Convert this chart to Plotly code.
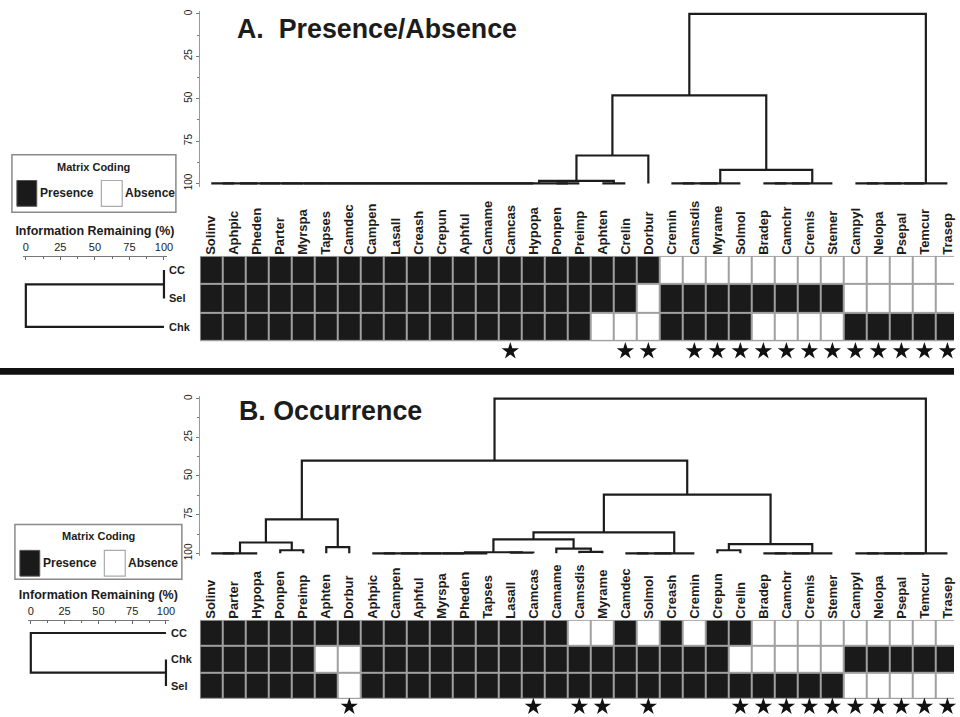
import plotly.graph_objects as go

W, H = 960, 717
FONT = "Liberation Sans, Arial, sans-serif"
INK = "#1c1c1c"
GRID = "#a0a0a0"

# ---------------- data: panel A (Presence/Absence) ----------------
LEAVES_A = ["Solinv", "Aphpic", "Pheden", "Parter", "Myrspa", "Tapses", "Camdec", "Campen",
            "Lasall", "Creash", "Crepun", "Aphful", "Camame", "Camcas", "Hypopa", "Ponpen",
            "Preimp", "Aphten", "Crelin", "Dorbur", "Cremin", "Camsdis", "Myrame", "Solmol",
            "Bradep", "Camchr", "Cremis", "Stemer", "Campyl", "Nelopa", "Psepal", "Temcur", "Trasep"]
ROWS_A = ["CC", "Sel", "Chk"]
CC_A = [1] * 20 + [0] * 13
SEL_A = [1] * 19 + [0] + [1] * 8 + [0] * 5
CHK_A = [1] * 17 + [0, 0, 0] + [1] * 4 + [0] * 4 + [1] * 5
STARS_A = ["Camcas", "Crelin", "Dorbur", "Camsdis", "Myrame", "Solmol", "Bradep", "Camchr",
           "Cremis", "Stemer", "Campyl", "Nelopa", "Psepal", "Temcur", "Trasep"]
# chains of consecutive leaves joined at a level (information remaining, %)
CHAINS_A = [("g1", "Solinv", "Hypopa", 100), ("g1b", "Ponpen", "Preimp", 100),
            ("g2", "Aphten", "Crelin", 100), ("g3", "Cremin", "Solmol", 100),
            ("g4", "Bradep", "Stemer", 100), ("g5", "Campyl", "Trasep", 100)]
MERGES_A = [("n0", "g1", "g1b", 100), ("n1", "n0", "g2", 98.5), ("n2", "n1", "Dorbur", 83.5),
            ("n3", "g3", "g4", 92), ("n4", "n2", "n3", 48), ("root", "n4", "g5", 0)]
ROW_MERGES_A = [("r1", "CC", "Sel", 100), ("r0", "r1", "Chk", 0)]

# ---------------- data: panel B (Occurrence) ----------------
LEAVES_B = ["Solinv", "Parter", "Hypopa", "Ponpen", "Preimp", "Aphten", "Dorbur", "Aphpic",
            "Campen", "Aphful", "Myrspa", "Pheden", "Tapses", "Lasall", "Camcas", "Camame",
            "Camsdis", "Myrame", "Camdec", "Solmol", "Creash", "Cremin", "Crepun", "Crelin",
            "Bradep", "Camchr", "Cremis", "Stemer", "Campyl", "Nelopa", "Psepal", "Temcur", "Trasep"]
ROWS_B = ["CC", "Chk", "Sel"]
CC_B = [1] * 16 + [0, 0, 1, 0, 1, 0, 1, 1] + [0] * 9
CHK_B = [1] * 5 + [0, 0] + [1] * 16 + [0] + [0] * 4 + [1] * 5
SEL_B = [1] * 6 + [0] + [1] * 21 + [0] * 5
STARS_B = ["Dorbur", "Camcas", "Camsdis", "Myrame", "Solmol", "Crelin", "Bradep", "Camchr",
           "Cremis", "Stemer", "Campyl", "Nelopa", "Psepal", "Temcur", "Trasep"]
CHAINS_B = [("b1", "Solinv", "Hypopa", 100), ("b2", "Ponpen", "Preimp", 98),
            ("b3", "Aphten", "Dorbur", 96), ("b4", "Aphpic", "Tapses", 100),
            ("b5", "Lasall", "Camcas", 99.5), ("b6", "Camsdis", "Myrame", 99),
            ("b7", "Camdec", "Cremin", 100), ("b8", "Crepun", "Crelin", 98),
            ("b9", "Bradep", "Stemer", 100), ("b10", "Campyl", "Trasep", 100)]
MERGES_B = [("m1", "b1", "b2", 93), ("m2", "m1", "b3", 78), ("m3", "b4", "b5", 99.3),
            ("m4", "Camame", "b6", 97), ("m5", "m3", "m4", 91), ("m6", "m5", "b7", 86.5),
            ("m7", "b8", "b9", 94), ("m8", "m6", "m7", 62), ("m9", "m2", "m8", 40),
            ("root", "m9", "b10", 0)]
ROW_MERGES_B = [("r1", "Chk", "Sel", 100), ("r0", "CC", "r1", 0)]

AXIS_TICKS = [0, 25, 50, 75, 100]
LEAF_LEVEL = 100


def tree_paths(leaves, chains, merges):
    pos = {name: (i, LEAF_LEVEL) for i, name in enumerate(leaves)}
    xs, ys = [], []

    def join(a, b, h):
        xa, ha = pos[a]
        xb, hb = pos[b]
        xs.extend([xa, xa, xb, xb, None])
        ys.extend([ha, h, h, hb, None])
        return ((xa + xb) / 2, h)

    for name, first, last, h in chains:
        i0, i1 = leaves.index(first), leaves.index(last)
        cur = leaves[i0]
        for j in range(i0 + 1, i1 + 1):
            pos[name] = join(cur, leaves[j], h)
            cur = name
    for name, a, b, h in merges:
        pos[name] = join(a, b, h)
    return xs, ys


# ---------------- layout helpers (pixel -> paper) ----------------
def fx(p):
    return p / W


def fy(p):
    return 1 - p / H


COL_X0, COL_W = 201, 23.15
XRANGE = [-0.5, (W - COL_X0) / COL_W - 0.5]
XDOM = [fx(COL_X0), 1.0]
PAD = 2
STAR_BAND = 0.5  # extra rows of axis below the matrix for the star row


def vert_axis(p0, p100):
    k = (p100 - p0) / 100
    top, bot = p0 - PAD * k, p100 + PAD * k
    return [fy(bot), fy(top)], [100 + PAD, -PAD]


def horiz_axis(p0, p100):
    k = (p100 - p0) / 100
    return [fx(p0 - PAD * k), fx(p100 + PAD * k)], [-PAD, 100 + PAD]


fig = go.Figure()
layout = dict(width=W, height=H, margin=dict(l=0, r=0, t=0, b=0), autosize=False,
              paper_bgcolor="white", plot_bgcolor="rgba(0,0,0,0)", showlegend=False,
              font=dict(family=FONT, color=INK))
shapes, annotations = [], []

PANELS = [
    dict(leaves=LEAVES_A, rows=ROWS_A, z=[CC_A, SEL_A, CHK_A], stars=STARS_A, chains=CHAINS_A,
         merges=MERGES_A, row_merges=ROW_MERGES_A, axn=(1, 2, 3), dendro=(12, 183),
         matrix=(256, 342), star_y=2.85, rowtree=(26, 165), legend=(12, 154, 165, 58),
         title="A.  Presence/Absence", title_pos=(236, 27)),
    dict(leaves=LEAVES_B, rows=ROWS_B, z=[CC_B, CHK_B, SEL_B], stars=STARS_B, chains=CHAINS_B,
         merges=MERGES_B, row_merges=ROW_MERGES_B, axn=(4, 5, 6), dendro=(400, 556),
         matrix=(623, 703), star_y=2.78, rowtree=(31, 167), legend=(15, 527, 168, 55),
         title="B. Occurrence", title_pos=(238, 412)),
]

for P in PANELS:
    nd, nm, nr = P["axn"]
    leaves = P["leaves"]
    n = len(leaves)
    nrows = len(P["rows"])
    # --- column dendrogram ---
    xs, ys = tree_paths(leaves, P["chains"], P["merges"])
    fig.add_trace(go.Scatter(x=xs, y=ys, mode="lines", line=dict(color=INK, width=2.2),
                             xaxis=f"x{nd}", yaxis=f"y{nd}", hoverinfo="skip"))
    ydom, yrng = vert_axis(*P["dendro"])
    layout[f"xaxis{nd}"] = dict(domain=XDOM, range=XRANGE, visible=False, anchor=f"y{nd}")
    layout[f"yaxis{nd}"] = dict(domain=ydom, range=yrng, anchor=f"x{nd}", tickvals=AXIS_TICKS,
                                tickangle=-90, ticks="outside", ticklen=3, tickcolor="#777",
                                minor=dict(dtick=12.5, ticks="outside", ticklen=2, tickcolor="#777"),
                                showline=True, linecolor="#999", linewidth=1, showgrid=False,
                                zeroline=False, tickfont=dict(size=10, color=INK))
    # --- matrix ---
    mt, mb = P["matrix"]
    row_h = (mb - mt) / nrows
    fig.add_trace(go.Heatmap(z=P["z"], x=list(range(n)), y=list(range(nrows)),
                             colorscale=[[0, "#ffffff"], [1, "#1a1a1a"]], zmin=0, zmax=1,
                             showscale=False, xgap=2, ygap=2, hoverinfo="skip",
                             xaxis=f"x{nm}", yaxis=f"y{nm}"))
    shapes.append(dict(type="rect", xref=f"x{nm}", yref=f"y{nm}", x0=-0.5, x1=n - 0.5,
                       y0=-0.5, y1=nrows - 0.5, fillcolor=GRID, line=dict(width=0),
                       layer="below"))
    star_idx = [leaves.index(s) for s in P["stars"]]
    fig.add_trace(go.Scatter(x=star_idx, y=[P["star_y"]] * len(star_idx), mode="markers",
                             marker=dict(symbol="star", size=13, color="#111"), cliponaxis=False,
                             xaxis=f"x{nm}", yaxis=f"y{nm}", hoverinfo="skip"))
    layout[f"xaxis{nm}"] = dict(domain=XDOM, range=XRANGE, anchor=f"y{nm}", side="top",
                                tickvals=list(range(n)), ticktext=leaves, tickangle=-90,
                                ticks="", showgrid=False, zeroline=False, showline=False,
                                ticklabeloverflow="allow",
                                tickfont=dict(size=13, color=INK, weight="bold"))
    bottom_px = min(mb + STAR_BAND * row_h, H)
    layout[f"yaxis{nm}"] = dict(domain=[fy(bottom_px), fy(mt)],
                                range=[nrows - 0.5 + (bottom_px - mb) / row_h, -0.5],
                                anchor=f"x{nm}", visible=False)
    # --- row dendrogram ---
    rxs, rys = tree_paths(P["rows"], [], P["row_merges"])
    fig.add_trace(go.Scatter(x=rys, y=rxs, mode="lines", line=dict(color=INK, width=2.2),
                             xaxis=f"x{nr}", yaxis=f"y{nm}", hoverinfo="skip"))
    xdom, xrng = horiz_axis(*P["rowtree"])
    layout[f"xaxis{nr}"] = dict(domain=xdom, range=xrng, anchor="free", position=fy(mt),
                                side="top", tickvals=AXIS_TICKS, ticks="inside", ticklen=3,
                                tickcolor="#666",
                                minor=dict(dtick=12.5, ticks="inside", ticklen=2, tickcolor="#666"),
                                showline=True, linecolor="#777", linewidth=1, showgrid=False,
                                zeroline=False, tickfont=dict(size=11, color=INK),
                                title=dict(text="Information Remaining (%)", standoff=2,
                                           font=dict(size=12.5, color=INK, weight="bold")))
    for i, r in enumerate(P["rows"]):
        annotations.append(dict(text=r, xref=f"x{nr}", yref=f"y{nm}", x=100, y=i,
                                xanchor="left", yanchor="middle", xshift=3, showarrow=False,
                                font=dict(size=11, color=INK, weight="bold")))
    # --- legend box ---
    lx, ly, lw, lh = P["legend"]
    shapes.append(dict(type="rect", xref="paper", yref="paper", x0=fx(lx), x1=fx(lx + lw),
                       y0=fy(ly + lh), y1=fy(ly), line=dict(color="#8a8a8a", width=1.5),
                       fillcolor="white"))
    shapes.append(dict(type="rect", xref="paper", yref="paper", x0=fx(lx + 5), x1=fx(lx + 25),
                       y0=fy(ly + 52), y1=fy(ly + 26), line=dict(color="#555", width=1),
                       fillcolor="#1a1a1a"))
    shapes.append(dict(type="rect", xref="paper", yref="paper", x0=fx(lx + 90), x1=fx(lx + 111),
                       y0=fy(ly + 52), y1=fy(ly + 26), line=dict(color="#aaa", width=1.2),
                       fillcolor="white"))
    annotations.append(dict(text="Matrix Coding", xref="paper", yref="paper", x=fx(lx + lw / 2),
                            y=fy(ly + 12), xanchor="center", yanchor="middle", showarrow=False,
                            font=dict(size=11, color=INK, weight="bold")))
    annotations.append(dict(text="Presence", xref="paper", yref="paper", x=fx(lx + 26),
                            y=fy(ly + 39), xanchor="left", yanchor="middle", showarrow=False,
                            font=dict(size=12, color=INK, weight="bold")))
    annotations.append(dict(text="Absence", xref="paper", yref="paper", x=fx(lx + 112),
                            y=fy(ly + 39), xanchor="left", yanchor="middle", showarrow=False,
                            font=dict(size=12, color=INK, weight="bold")))
    # --- panel title ---
    tx, ty = P["title_pos"]
    annotations.append(dict(text=P["title"], xref="paper", yref="paper", x=fx(tx), y=fy(ty),
                            xanchor="left", yanchor="middle", showarrow=False,
                            font=dict(size=26.8, color=INK, weight="bold")))

# separator bar between panels
shapes.append(dict(type="rect", xref="paper", yref="paper", x0=0, x1=1, y0=fy(376), y1=fy(369),
                   fillcolor="#111", line=dict(width=0)))

layout["shapes"] = shapes
layout["annotations"] = annotations
fig.update_layout(**layout)
fig.write_html("out.html", config={"displayModeBar": False},
               post_script="document.body.style.margin='0px';"
                           "document.body.style.overflow='hidden';")
